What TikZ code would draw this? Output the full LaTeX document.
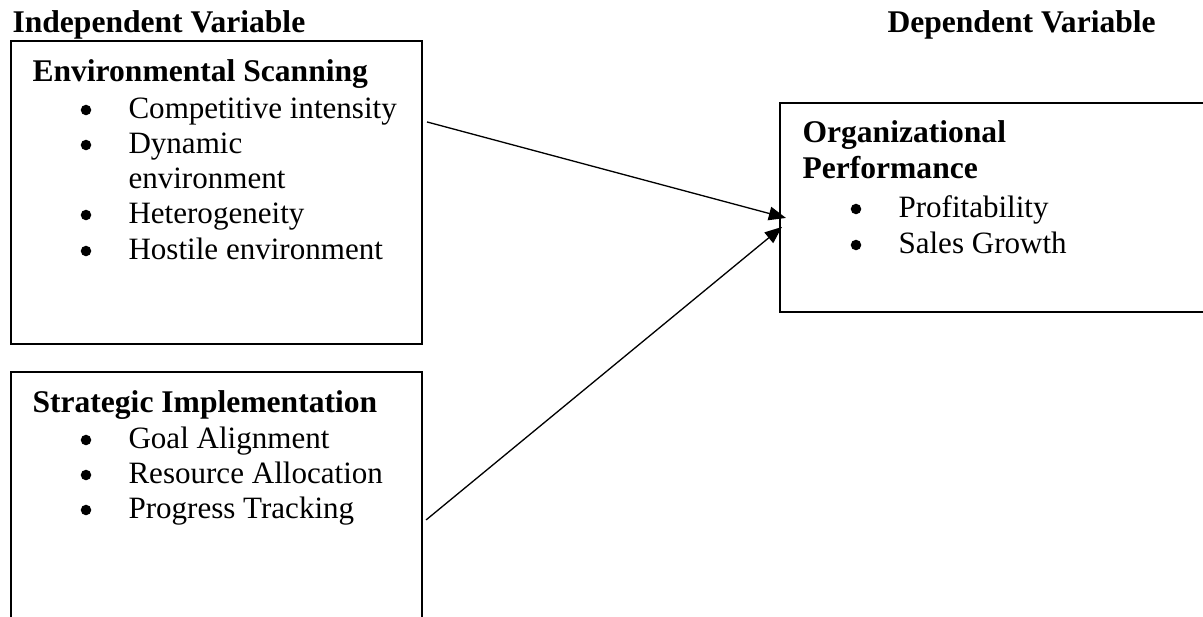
\documentclass[tikz,border=0pt]{standalone}
\usepackage{fontspec}
\setmainfont{Liberation Serif}
\usetikzlibrary{arrows.meta,fit}

\begin{document}
\begin{tikzpicture}[
  x=0.38pt, y=-0.38pt,
  box/.style={draw, line width=0.8pt, inner sep=0pt},
  head/.style={anchor=base west, inner sep=0pt, font=\fontsize{12}{14}\selectfont\bfseries},
  itm/.style={anchor=base west, inner sep=0pt, font=\fontsize{11.8}{13}\selectfont},
  dot/.style={circle, fill=black, inner sep=0pt, minimum size=4pt},
  arr/.style={-{Triangle[length=6.5pt, width=5.2pt]}, line width=0.5pt}
]
\useasboundingbox (0,0) rectangle (1203,616);
% headings
\node[head] (indep) at (12,32)  {Independent Variable};
\node[head] (dep)   at (887,32) {Dependent Variable};
% boxes
\node[box, fit={(11,41) (422,344)}]   (envbox)   {};
\node[box, fit={(11,372) (422,630)}]  (stratbox) {};
\node[box, fit={(780,103) (1215,312)}] (orgbox)  {};
% environmental scanning
\node[head] (envt) at (32,81) {Environmental Scanning};
\node[itm] (env1) at (128,118) {Competitive intensity};
\node[itm] (env2) at (128,153) {Dynamic};
\node[itm] (env3) at (128,188) {environment};
\node[itm] (env4) at (128,223) {Heterogeneity};
\node[itm] (env5) at (128,259) {Hostile environment};
\foreach \y [count=\i] in {118,153,223,259}
  \node[dot] (envb\i) at (86,\y-8) {};
% strategic implementation
\node[head] (strt) at (32,412) {Strategic Implementation};
\node[itm] (str1) at (128,448) {Goal Alignment};
\node[itm] (str2) at (128,483) {Resource Allocation};
\node[itm] (str3) at (128,518) {Progress Tracking};
\foreach \y [count=\i] in {448,483,518}
  \node[dot] (strb\i) at (86,\y-8) {};
% organizational performance
\node[head] (orgt1) at (802,142) {Organizational};
\node[head] (orgt2) at (802,178) {Performance};
\node[itm] (org1) at (898,217) {Profitability};
\node[itm] (org2) at (898,253) {Sales Growth};
\foreach \y [count=\i] in {217,253}
  \node[dot] (orgb\i) at (856,\y-8) {};
% links
\draw[arr] ([shift={(4,82)}]envbox.north east) -- ([shift={(7,116)}]orgbox.north west);
\draw[arr] ([shift={(3,149)}]stratbox.north east) -- ([shift={(3,125)}]orgbox.north west);
\end{tikzpicture}
\end{document}
